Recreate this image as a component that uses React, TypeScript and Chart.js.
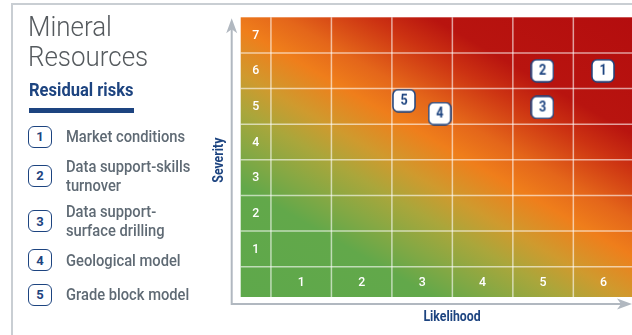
import React, { useEffect, useRef } from 'react';
import { Chart, registerables } from 'chart.js';

Chart.register(...registerables);

// ---- data ----
const likelihoodTicks = ['1', '2', '3', '4', '5', '6'];
const severityTicks = ['1', '2', '3', '4', '5', '6', '7'];
const riskIds = ['1', '2', '3', '4', '5'];
const riskNames = [
  ['Market conditions'],
  ['Data support-skills', 'turnover'],
  ['Data support-', 'surface drilling'],
  ['Geological model'],
  ['Grade block model'],
];
const riskLikelihood = [5.99, 4.99, 4.99, 3.29, 2.7];
const riskSeverity = [6.0, 6.0, 4.97, 4.8, 5.16];

const NAVY = '#1d4480';
const FONT = 'Roboto, "Liberation Sans", Arial, sans-serif';

function makeBadge(label: string): HTMLCanvasElement {
  const c = document.createElement('canvas');
  c.width = 24;
  c.height = 24;
  const ctx = c.getContext('2d')!;
  ctx.fillStyle = '#ffffff';
  ctx.strokeStyle = NAVY;
  ctx.lineWidth = 1.5;
  ctx.beginPath();
  (ctx as any).roundRect(1, 1, 22, 22, 5);
  ctx.fill();
  ctx.stroke();
  ctx.fillStyle = NAVY;
  ctx.font = `bold 14px ${FONT}`;
  ctx.textAlign = 'center';
  ctx.textBaseline = 'middle';
  ctx.save();
  ctx.translate(12, 12.5);
  ctx.scale(0.9, 1);
  ctx.fillText(label, 0, 0);
  ctx.restore();
  return c;
}

function condensedText(ctx: CanvasRenderingContext2D, text: string, x: number, y: number, sx: number, rot = 0) {
  ctx.save();
  ctx.translate(x, y);
  if (rot) ctx.rotate(rot);
  ctx.scale(sx, 1);
  ctx.fillText(text, 0, 0);
  ctx.restore();
}

const matrixPlugin = {
  id: 'matrix',
  beforeDatasetsDraw(chart: any) {
    const { ctx, chartArea: a, scales } = chart;
    const xs = scales.x;
    const ys = scales.y;
    const w = a.right - a.left;
    const h = a.bottom - a.top;
    // iso-colour lines run down-right with slope ~0.58
    const nrm = Math.sqrt(0.58 * 0.58 + 1);
    const dx = 0.58 / nrm;
    const dy = 1 / nrm;
    const P = dx * w + dy * h;
    const g = ctx.createLinearGradient(a.left, a.bottom, a.left + dx * P, a.bottom - dy * P);
    g.addColorStop(0, '#5ea84b');
    g.addColorStop(0.22, '#62a84a');
    g.addColorStop(0.3, '#88a843');
    g.addColorStop(0.37, '#aaa63b');
    g.addColorStop(0.44, '#cf9a2e');
    g.addColorStop(0.53, '#ef7e1b');
    g.addColorStop(0.6, '#e4661a');
    g.addColorStop(0.7, '#cc3212');
    g.addColorStop(0.77, '#b8140f');
    g.addColorStop(1, '#b40d0e');
    ctx.save();
    ctx.fillStyle = g;
    ctx.fillRect(a.left, a.top, w, h);

    // grid
    ctx.strokeStyle = 'rgba(255,255,255,0.6)';
    ctx.lineWidth = 1.5;
    likelihoodTicks.forEach((_, i) => {
      const px = xs.getPixelForValue(i + 0.5);
      ctx.beginPath();
      ctx.moveTo(px, a.top);
      ctx.lineTo(px, a.bottom);
      ctx.stroke();
    });
    severityTicks.forEach((_, i) => {
      const py = ys.getPixelForValue(i + 0.5);
      ctx.beginPath();
      ctx.moveTo(a.left, py);
      ctx.lineTo(a.right, py);
      ctx.stroke();
    });

    // tick labels inside cells
    ctx.fillStyle = '#ffffff';
    ctx.font = `500 13px ${FONT}`;
    ctx.textAlign = 'center';
    ctx.textBaseline = 'middle';
    const labelColX = (a.left + xs.getPixelForValue(0.5)) / 2;
    severityTicks.forEach((t, i) => {
      condensedText(ctx, t, labelColX, ys.getPixelForValue(i + 1) + 0.5, 0.95);
    });
    const labelRowY = (ys.getPixelForValue(0.5) + a.bottom) / 2;
    likelihoodTicks.forEach((t, i) => {
      condensedText(ctx, t, xs.getPixelForValue(i + 1), labelRowY + 0.5, 0.95);
    });
    ctx.restore();
  },
  afterDraw(chart: any) {
    const { ctx, chartArea: a } = chart;
    ctx.save();
    const col = '#b1b8c0';
    ctx.strokeStyle = col;
    ctx.fillStyle = col;
    ctx.lineWidth = 2;
    const ax = a.left - 9;
    const ay = a.bottom + 7;
    ctx.beginPath();
    ctx.moveTo(ax, a.top + 8);
    ctx.lineTo(ax, ay);
    ctx.lineTo(chart.width - 8, ay);
    ctx.stroke();
    // vertical arrowhead
    const tipY = a.top + 1;
    ctx.beginPath();
    ctx.moveTo(ax, tipY);
    ctx.lineTo(ax + 5.5, tipY + 15);
    ctx.lineTo(ax, tipY + 11);
    ctx.lineTo(ax - 5.5, tipY + 15);
    ctx.closePath();
    ctx.fill();
    // horizontal arrowhead
    const tipX = chart.width;
    ctx.beginPath();
    ctx.moveTo(tipX, ay);
    ctx.lineTo(tipX - 15, ay - 5.5);
    ctx.lineTo(tipX - 11, ay);
    ctx.lineTo(tipX - 15, ay + 5.5);
    ctx.closePath();
    ctx.fill();

    // axis titles
    ctx.fillStyle = NAVY;
    ctx.font = `bold 15px ${FONT}`;
    ctx.textAlign = 'center';
    ctx.textBaseline = 'middle';
    condensedText(ctx, 'Likelihood', 452, 317.5, 0.82);
    condensedText(ctx, 'Severity', a.left - 21, (a.top + a.bottom) / 2 + 3, 0.82, -Math.PI / 2);
    ctx.restore();
  },
};

export default function App() {
  const ref = useRef<HTMLCanvasElement | null>(null);
  useEffect(() => {
    if (!ref.current) return;
    const chart = new Chart(ref.current, {
      type: 'scatter',
      data: {
        datasets: [
          {
            label: 'Risks',
            data: riskLikelihood.map((x, i) => ({ x, y: riskSeverity[i] })),
            pointStyle: riskIds.map((id) => makeBadge(id)) as any,
            pointRadius: 12,
            clip: false as any,
          },
        ],
      },
      options: {
        responsive: false,
        animation: false,
        events: [],
        layout: { autoPadding: false, padding: { left: 240.7, top: 17.3, right: 0, bottom: 38 } } as any,
        plugins: { legend: { display: false }, tooltip: { enabled: false } },
        scales: {
          x: { type: 'linear', min: 0, max: 6.47, display: false },
          y: { type: 'linear', min: -0.35, max: 7.5, display: false },
        },
      },
      plugins: [matrixPlugin],
    });
    (document as any).fonts?.ready?.then(() => chart.update());
    return () => chart.destroy();
  }, []);

  const textStyle: React.CSSProperties = {
    fontFamily: FONT,
    fontWeight: 500,
    fontSize: 16,
    lineHeight: '19px',
    color: '#5f6a74',
    transform: 'scaleX(0.92)',
    transformOrigin: 'left center',
    whiteSpace: 'nowrap',
  };
  const centers = [136.5, 175.5, 221, 260, 294.5];

  return (
    <div style={{ position: 'fixed', left: 0, top: 0, width: 632, height: 335, overflow: 'hidden', background: '#fff' }}>
      <canvas ref={ref} width={632} height={335} style={{ position: 'absolute', left: 0, top: 0 }} />
      <div
        style={{
          position: 'absolute',
          left: 11,
          top: 3,
          width: 640,
          height: 400,
          borderTop: '2px solid #c9ced3',
          borderLeft: '2px solid #c9ced3',
          pointerEvents: 'none',
        }}
      />
      <div
        style={{
          position: 'absolute',
          left: 28,
          top: 11.5,
          fontFamily: FONT,
          fontWeight: 300,
          fontSize: 27,
          lineHeight: '30px',
          color: '#555a5e',
          whiteSpace: 'nowrap',
          transform: 'scaleX(0.96)',
          transformOrigin: 'left center',
        }}
      >
        <div>Mineral</div>
        <div>Resources</div>
      </div>
      <div
        style={{
          position: 'absolute',
          left: 29,
          top: 80,
          fontFamily: FONT,
          fontWeight: 700,
          fontSize: 19,
          lineHeight: '20px',
          color: NAVY,
          transform: 'scaleX(0.87)',
          transformOrigin: 'left center',
          whiteSpace: 'nowrap',
        }}
      >
        Residual risks
      </div>
      <div style={{ position: 'absolute', left: 29, top: 108, width: 105, height: 5, background: NAVY }} />
      {riskIds.map((id, i) => (
        <div
          key={id}
          style={{
            position: 'absolute',
            left: 28,
            top: centers[i],
            transform: 'translateY(-50%)',
            display: 'flex',
            alignItems: 'center',
          }}
        >
          <div
            style={{
              boxSizing: 'border-box',
              width: 24,
              height: 22,
              border: `1.5px solid ${NAVY}`,
              borderRadius: 6,
              background: '#fff',
              display: 'flex',
              alignItems: 'center',
              justifyContent: 'center',
              fontFamily: FONT,
              fontWeight: 700,
              fontSize: 13,
              color: NAVY,
            }}
          >
            {id}
          </div>
          <div style={{ marginLeft: 14, ...textStyle }}>
            {riskNames[i].map((line, j) => (
              <div key={j}>{line}</div>
            ))}
          </div>
        </div>
      ))}
    </div>
  );
}
